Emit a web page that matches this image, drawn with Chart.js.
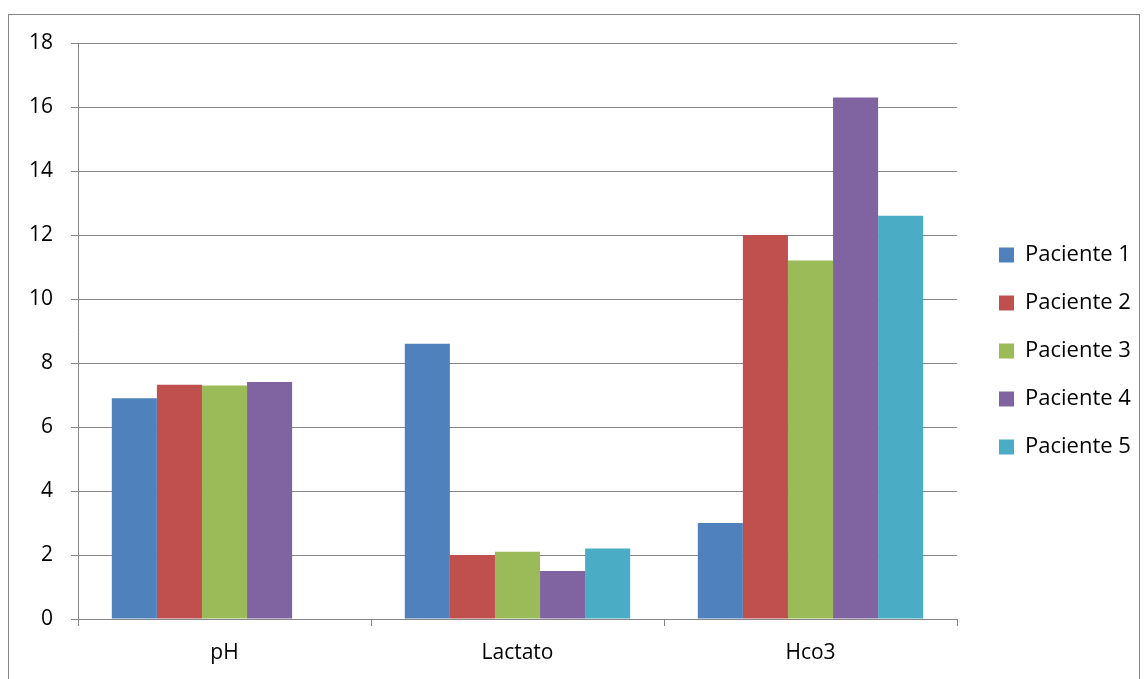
<!DOCTYPE html>
<html><head><meta charset="utf-8">
<script src="https://cdn.jsdelivr.net/npm/chart.js@4/dist/chart.umd.min.js"></script>
<style>html,body{margin:0;padding:0;background:#fff}#wrap{width:1148px;height:679px}</style>
</head><body><div id="wrap"><canvas id="c" width="1148" height="679"></canvas></div>
<script>
const categories = ['pH', 'Lactato', 'Hco3'];
const seriesNames = ['Paciente 1', 'Paciente 2', 'Paciente 3', 'Paciente 4', 'Paciente 5'];
const paciente1 = [6.9, 8.6, 3.0];
const paciente2 = [7.32, 2.0, 12.0];
const paciente3 = [7.3, 2.1, 11.2];
const paciente4 = [7.41, 1.5, 16.3];
const paciente5 = [null, 2.2, 12.6];
const yTicks = [0, 2, 4, 6, 8, 10, 12, 14, 16, 18];
const colors = ['#4F81BD', '#C0504D', '#9BBB59', '#8064A2', '#4BACC6'];

const FONT = 'Open Sans';
const GRID = '#868686';
const seriesValues = [paciente1, paciente2, paciente3, paciente4, paciente5];

const frame = {
  id: 'frame',
  beforeDraw(chart) {
    const ctx = chart.ctx;
    ctx.save();
    ctx.fillStyle = '#fff';
    ctx.fillRect(0, 0, chart.width, chart.height);
    ctx.strokeStyle = GRID;
    ctx.lineWidth = 1;
    ctx.strokeRect(8.5, 14.5, 1131, 700);
    ctx.restore();
  }
};

const legendPlace = {
  id: 'legendPlace',
  afterInit(chart) {
    const lg = chart.legend;
    const f = lg.fit;
    lg.fit = function () { f.call(this); this.width = 191; };
  },
  afterLayout(chart) {
    const lg = chart.legend;
    lg.left = 999 - 26;
    lg.right = lg.left + 191;
    lg.top -= 10;
    lg.bottom -= 10;
  }
};

new Chart(document.getElementById('c'), {
  type: 'bar',
  data: {
    labels: categories,
    datasets: seriesNames.map((n, i) => ({
      label: n,
      data: seriesValues[i],
      backgroundColor: colors[i],
      borderWidth: 0,
      categoryPercentage: 5 / 6.5,
      barPercentage: 1
    }))
  },
  options: {
    responsive: false,
    animation: false,
    devicePixelRatio: 1,
    layout: { padding: { top: 43, left: 0, right: 0, bottom: 0 } },
    plugins: {
      tooltip: { enabled: false },
      legend: {
        position: 'right',
        labels: {
          boxWidth: 15, boxHeight: 15, padding: 26,
          color: '#000', font: { family: FONT, size: 22 }
        }
      }
    },
    scales: {
      x: {
        grid: { display: true, drawOnChartArea: false, drawTicks: true, tickLength: 7, color: GRID, offset: true },
        border: { color: GRID },
        ticks: { color: '#000', font: { family: FONT, size: 21 }, padding: 14 },
        afterFit(s) { s.height = 60; }
      },
      y: {
        min: 0, max: 18,
        afterBuildTicks(s) { s.ticks = yTicks.map(v => ({ value: v })); },
        grid: { color: GRID, tickLength: 7, drawTicks: true },
        border: { color: GRID },
        ticks: { color: '#000', font: { family: FONT, size: 21 }, padding: 18 },
        afterFit(s) { s.width = 78; }
      }
    }
  },
  plugins: [frame, legendPlace]
});
</script>
</body></html>
